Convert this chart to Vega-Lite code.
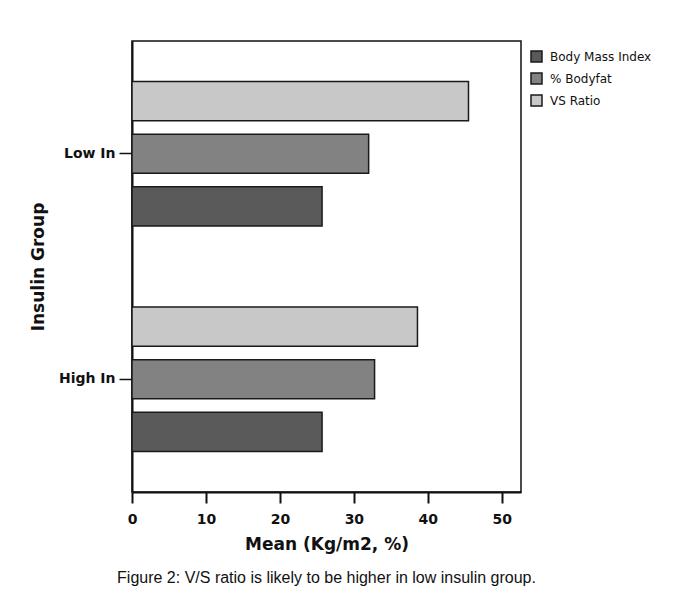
{
  "$schema": "https://vega.github.io/schema/vega-lite/v6.json",
  "width": 389,
  "height": 451,
  "autosize": "none",
  "padding": {"left": 132, "top": 41, "right": 168, "bottom": 112},
  "background": "white",
  "data": {
    "values": [
      {"group": "Low In", "measure": "Body Mass Index", "value": 25.7},
      {"group": "Low In", "measure": "% Bodyfat", "value": 32.0},
      {"group": "Low In", "measure": "VS Ratio", "value": 45.5},
      {"group": "High In", "measure": "Body Mass Index", "value": 25.7},
      {"group": "High In", "measure": "% Bodyfat", "value": 32.8},
      {"group": "High In", "measure": "VS Ratio", "value": 38.6}
    ]
  },
  "title": {
    "text": "Figure 2: V/S ratio is likely to be higher in low insulin group.",
    "orient": "bottom",
    "anchor": "middle",
    "font": "Liberation Sans",
    "fontSize": 16,
    "fontWeight": "normal",
    "color": "#111",
    "offset": 18
  },
  "mark": {"type": "bar", "stroke": "#1a1a1a", "strokeWidth": 1.5},
  "encoding": {
    "y": {
      "field": "group",
      "type": "nominal",
      "sort": ["Low In", "High In"],
      "scale": {"paddingInner": 0.3, "paddingOuter": 0.15},
      "axis": {
        "title": "Insulin Group",
        "titleFont": "DejaVu Sans",
        "titleFontSize": 17,
        "titleFontWeight": "bold",
        "titleColor": "#111",
        "titlePadding": 11,
        "labelFont": "DejaVu Sans",
        "labelFontSize": 14,
        "labelFontWeight": "bold",
        "labelColor": "#111",
        "labelPadding": 4,
        "tickSize": 13,
        "tickWidth": 1.5,
        "tickColor": "#111",
        "domainColor": "#111",
        "domainWidth": 2
      }
    },
    "yOffset": {
      "field": "measure",
      "type": "nominal",
      "sort": ["VS Ratio", "% Bodyfat", "Body Mass Index"],
      "scale": {"paddingInner": 0.257, "paddingOuter": 0.1285}
    },
    "x": {
      "field": "value",
      "type": "quantitative",
      "scale": {"domain": [0, 52.6], "nice": false},
      "axis": {
        "title": "Mean (Kg/m2, %)",
        "values": [0, 10, 20, 30, 40, 50],
        "grid": false,
        "titleFont": "DejaVu Sans",
        "titleFontSize": 17,
        "titleFontWeight": "bold",
        "titleColor": "#111",
        "titlePadding": 10,
        "labelFont": "DejaVu Sans",
        "labelFontSize": 14,
        "labelFontWeight": "bold",
        "labelColor": "#111",
        "labelPadding": 9,
        "tickSize": 11,
        "tickWidth": 2,
        "tickColor": "#111",
        "domainColor": "#111",
        "domainWidth": 2
      }
    },
    "color": {
      "field": "measure",
      "type": "nominal",
      "sort": ["Body Mass Index", "% Bodyfat", "VS Ratio"],
      "scale": {
        "domain": ["Body Mass Index", "% Bodyfat", "VS Ratio"],
        "range": ["#5a5a5a", "#828282", "#c8c8c8"]
      },
      "legend": {
        "title": null,
        "orient": "none",
        "legendX": 398,
        "legendY": 9,
        "symbolType": "square",
        "symbolSize": 121,
        "symbolStrokeColor": "#1a1a1a",
        "symbolStrokeWidth": 1.5,
        "labelFont": "DejaVu Sans",
        "labelFontSize": 12,
        "labelColor": "#111",
        "rowPadding": 5,
        "labelOffset": 7
      }
    }
  },
  "config": {
    "view": {"stroke": "#111", "strokeWidth": 1.5},
    "axis": {"labelFlush": false}
  }
}
